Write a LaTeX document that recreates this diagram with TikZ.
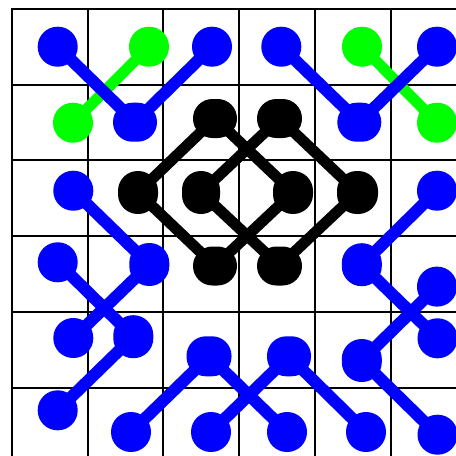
\documentclass[tikz,border=0pt]{standalone}
\begin{document}
\begin{tikzpicture}[x=1pt,y=-1pt,
  gridline/.style={line width=2pt, black, line cap=rect},
  dot/.style={inner sep=0pt, minimum width=40pt, minimum height=40pt, rounded corners=19.8pt, fill},
  hdot/.style={dot, minimum width=44pt, minimum height=39pt, rounded corners=19.4pt},
  vdot/.style={dot, minimum width=40pt, minimum height=43pt, rounded corners=19.8pt},
  bluecol/.style={fill=blue, draw=none},
  greencol/.style={fill=green, draw=none},
  blackcol/.style={fill=black, draw=none},
  blueline/.style={draw=blue, line width=12pt},
  greenline/.style={draw=green, line width=11pt},
  blackline/.style={draw=black, line width=11pt}]
\useasboundingbox (0,0) rectangle (456,456);
\fill[white] (0,0) rectangle (456,456);
\begin{scope}
\clip (0,0) rectangle (456,456);
\foreach \i in {0,...,6} {
  \draw[gridline] ({12+75.7*\i},9) -- ({12+75.7*\i},480);
  \draw[gridline] (12,{9+75.7*\i}) -- (480,{9+75.7*\i});
}
\end{scope}
% green
\node[dot,greencol] (g1) at (149,46.7) {};
\node[dot,greencol] (g2) at (73,122.7) {};
\node[dot,greencol] (g3) at (362,46.7) {};
\node[dot,greencol] (g4) at (437,122.7) {};
\draw[greenline] (g1.center) -- (g2.center);
\draw[greenline] (g3.center) -- (g4.center);
% blue
\node[dot,bluecol] (b1) at (57.7,46.7) {};
\node[hdot,bluecol] (b2) at (135,122.2) {};
\node[dot,bluecol] (b3) at (212,46.7) {};
\node[dot,bluecol] (b4) at (281.3,46.7) {};
\node[hdot,bluecol] (b5) at (359.3,122.2) {};
\node[dot,bluecol] (b6) at (437,46.7) {};
\node[dot,bluecol] (b7) at (73.3,190.7) {};
\node[vdot,bluecol] (b8) at (149.3,264.5) {};
\node[dot,bluecol] (b9) at (57.7,262.3) {};
\node[vdot,bluecol] (b10) at (133.3,336.7) {};
\node[dot,bluecol] (b11) at (73.3,338) {};
\node[dot,bluecol] (b12) at (57.7,410.3) {};
\node[hdot,bluecol,minimum width=45pt,minimum height=40pt] (b13) at (209,356.3) {};
\node[dot,bluecol] (b14) at (131,432) {};
\node[hdot,bluecol,minimum height=40pt] (b15) at (289,356.3) {};
\node[dot,bluecol] (b16) at (211,432) {};
\node[dot,bluecol] (b17) at (287,432) {};
\node[dot,bluecol] (b18) at (366,432) {};
\node[dot,bluecol] (b19) at (437,190.7) {};
\node[vdot,bluecol] (b20) at (361.8,264.7) {};
\node[dot,bluecol] (b21) at (437.5,338.3) {};
\node[dot,bluecol] (b22) at (437,286.6) {};
\node[vdot,bluecol] (b23) at (361.8,360.5) {};
\node[dot,bluecol] (b24) at (437.5,434.7) {};
\draw[blueline] (b1.center) -- (b2.center) -- (b3.center);
\draw[blueline] (b4.center) -- (b5.center) -- (b6.center);
\draw[blueline] (b7.center) -- (b8.center);
\draw[blueline] (b9.center) -- (b10.center);
\draw[blueline] (b8.center) -- (b11.center);
\draw[blueline] (b10.center) -- (b12.center);
\draw[blueline] (b13.center) -- (b14.center);
\draw[blueline] (b13.center) -- (b17.center);
\draw[blueline] (b15.center) -- (b16.center);
\draw[blueline] (b15.center) -- (b18.center);
\draw[blueline] (b19.center) -- (b20.center) -- (b21.center);
\draw[blueline] (b22.center) -- (b23.center) -- (b24.center);
% black
\node[hdot,blackcol] (k1) at (215,118.5) {};
\node[hdot,blackcol,minimum width=45pt] (k2) at (279.5,118.5) {};
\node[vdot,blackcol] (k3) at (138,192.5) {};
\node[vdot,blackcol,minimum width=38pt,rounded corners=18.8pt] (k4) at (201,192.5) {};
\node[vdot,blackcol] (k5) at (293,192.5) {};
\node[vdot,blackcol,minimum width=41pt] (k6) at (357.5,192.5) {};
\node[hdot,blackcol] (k7) at (215,266) {};
\node[hdot,blackcol,minimum width=45pt] (k8) at (279.5,266) {};
\draw[blackline] (k3.center) -- (k1.center) -- (k5.center) -- (k7.center) -- cycle;
\draw[blackline] (k4.center) -- (k2.center) -- (k6.center) -- (k8.center) -- cycle;
\end{tikzpicture}
\end{document}
